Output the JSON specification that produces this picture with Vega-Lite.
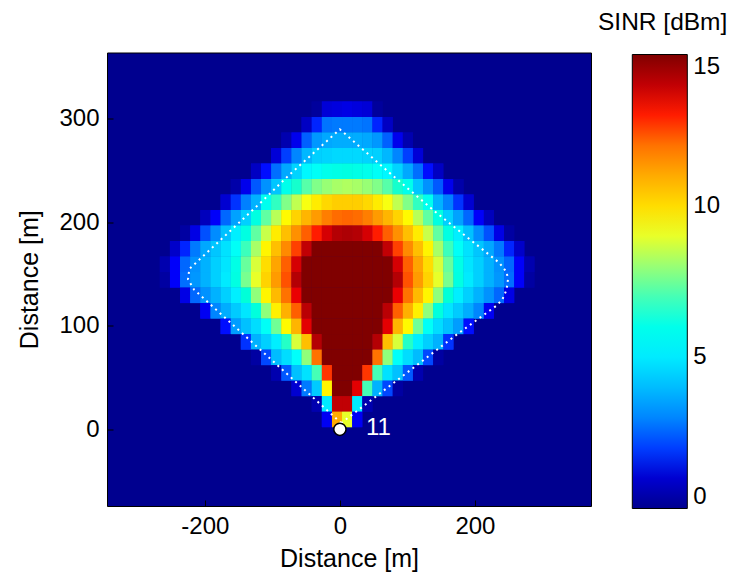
{
  "$schema": "https://vega.github.io/schema/vega-lite/v6.json",
  "width": 484,
  "height": 453.5,
  "autosize": {"type": "none"},
  "padding": {"left": 107, "top": 52.5, "right": 138, "bottom": 72},
  "background": "white",
  "title": {"text": "SINR [dBm]", "anchor": "start", "frame": "group", "dx": 491, "dy": 24, "offset": 22, "baseline": "alphabetic", "fontSize": 24.5, "fontWeight": "normal", "font": "Liberation Sans", "color": "black"},
  "config": {
    "view": {"stroke": "black", "strokeWidth": 1, "fill": "#00008f"},
    "font": "Liberation Sans",
    "axis": {"labelFont": "Liberation Sans", "labelFontSize": 24, "labelColor": "black", "titleFont": "Liberation Sans", "titleFontSize": 25, "titleFontWeight": "normal", "titleColor": "black", "tickColor": "black", "tickSize": -6, "tickWidth": 1, "grid": false, "domain": false, "labelExpr": "'' + datum.value"},
    "legend": {"gradientVerticalMaxLength": 600}
  },
  "datasets": {
    "cells": [
        {"x":-35,"y":305,"v":0.2},{"x":-20,"y":305,"v":1.1},{"x":-5,"y":305,"v":1.2},{"x":10,"y":305,"v":1.3},{"x":25,"y":305,"v":1.2},{"x":40,"y":305,"v":1.1},{"x":55,"y":305,"v":0.2},
        {"x":-50,"y":290,"v":0.8},{"x":-35,"y":290,"v":1.8},{"x":-20,"y":290,"v":2.7},{"x":-5,"y":290,"v":2.8},{"x":10,"y":290,"v":2.8},{"x":25,"y":290,"v":2.8},{"x":40,"y":290,"v":2.7},{"x":55,"y":290,"v":1.8},{"x":70,"y":290,"v":0.8},
        {"x":-80,"y":275,"v":0.5},{"x":-65,"y":275,"v":1.4},{"x":-50,"y":275,"v":2.4},{"x":-35,"y":275,"v":3.3},{"x":-20,"y":275,"v":3.6},{"x":-5,"y":275,"v":3.7},{"x":10,"y":275,"v":3.7},{"x":25,"y":275,"v":3.7},{"x":40,"y":275,"v":3.6},{"x":55,"y":275,"v":3.3},{"x":70,"y":275,"v":2.4},{"x":85,"y":275,"v":1.4},{"x":100,"y":275,"v":0.5},
        {"x":-95,"y":260,"v":1.1},{"x":-80,"y":260,"v":2.0},{"x":-65,"y":260,"v":3.0},{"x":-50,"y":260,"v":3.9},{"x":-35,"y":260,"v":4.4},{"x":-20,"y":260,"v":4.5},{"x":-5,"y":260,"v":4.6},{"x":10,"y":260,"v":4.6},{"x":25,"y":260,"v":4.6},{"x":40,"y":260,"v":4.5},{"x":55,"y":260,"v":4.4},{"x":70,"y":260,"v":3.9},{"x":85,"y":260,"v":3.0},{"x":100,"y":260,"v":2.0},{"x":115,"y":260,"v":1.1},
        {"x":-125,"y":245,"v":0.8},{"x":-110,"y":245,"v":1.7},{"x":-95,"y":245,"v":2.6},{"x":-80,"y":245,"v":3.6},{"x":-65,"y":245,"v":4.5},{"x":-50,"y":245,"v":5.3},{"x":-35,"y":245,"v":5.7},{"x":-20,"y":245,"v":6.0},{"x":-5,"y":245,"v":6.1},{"x":10,"y":245,"v":6.2},{"x":25,"y":245,"v":6.1},{"x":40,"y":245,"v":6.0},{"x":55,"y":245,"v":5.7},{"x":70,"y":245,"v":5.3},{"x":85,"y":245,"v":4.5},{"x":100,"y":245,"v":3.6},{"x":115,"y":245,"v":2.6},{"x":130,"y":245,"v":1.7},{"x":145,"y":245,"v":0.8},
        {"x":-155,"y":230,"v":0.4},{"x":-140,"y":230,"v":1.4},{"x":-125,"y":230,"v":2.3},{"x":-110,"y":230,"v":3.2},{"x":-95,"y":230,"v":4.2},{"x":-80,"y":230,"v":6.0},{"x":-65,"y":230,"v":6.6},{"x":-50,"y":230,"v":7.2},{"x":-35,"y":230,"v":7.7},{"x":-20,"y":230,"v":8.0},{"x":-5,"y":230,"v":8.2},{"x":10,"y":230,"v":8.3},{"x":25,"y":230,"v":8.2},{"x":40,"y":230,"v":8.0},{"x":55,"y":230,"v":7.7},{"x":70,"y":230,"v":7.2},{"x":85,"y":230,"v":6.6},{"x":100,"y":230,"v":6.0},{"x":115,"y":230,"v":4.2},{"x":130,"y":230,"v":3.2},{"x":145,"y":230,"v":2.3},{"x":160,"y":230,"v":1.4},{"x":175,"y":230,"v":0.4},
        {"x":-170,"y":215,"v":1.0},{"x":-155,"y":215,"v":1.9},{"x":-140,"y":215,"v":2.9},{"x":-125,"y":215,"v":3.8},{"x":-110,"y":215,"v":5.9},{"x":-95,"y":215,"v":6.8},{"x":-80,"y":215,"v":7.7},{"x":-65,"y":215,"v":8.5},{"x":-50,"y":215,"v":9.2},{"x":-35,"y":215,"v":9.7},{"x":-20,"y":215,"v":10.1},{"x":-5,"y":215,"v":10.3},{"x":10,"y":215,"v":10.3},{"x":25,"y":215,"v":10.3},{"x":40,"y":215,"v":10.1},{"x":55,"y":215,"v":9.7},{"x":70,"y":215,"v":9.2},{"x":85,"y":215,"v":8.5},{"x":100,"y":215,"v":7.7},{"x":115,"y":215,"v":6.8},{"x":130,"y":215,"v":5.9},{"x":145,"y":215,"v":3.8},{"x":160,"y":215,"v":2.9},{"x":175,"y":215,"v":1.9},{"x":190,"y":215,"v":1.0},
        {"x":-200,"y":200,"v":0.7},{"x":-185,"y":200,"v":1.6},{"x":-170,"y":200,"v":2.5},{"x":-155,"y":200,"v":3.5},{"x":-140,"y":200,"v":4.4},{"x":-125,"y":200,"v":6.2},{"x":-110,"y":200,"v":7.3},{"x":-95,"y":200,"v":8.4},{"x":-80,"y":200,"v":9.4},{"x":-65,"y":200,"v":10.2},{"x":-50,"y":200,"v":10.8},{"x":-35,"y":200,"v":11.3},{"x":-20,"y":200,"v":11.8},{"x":-5,"y":200,"v":12.1},{"x":10,"y":200,"v":12.2},{"x":25,"y":200,"v":12.1},{"x":40,"y":200,"v":11.8},{"x":55,"y":200,"v":11.3},{"x":70,"y":200,"v":10.8},{"x":85,"y":200,"v":10.2},{"x":100,"y":200,"v":9.4},{"x":115,"y":200,"v":8.4},{"x":130,"y":200,"v":7.3},{"x":145,"y":200,"v":6.2},{"x":160,"y":200,"v":4.4},{"x":175,"y":200,"v":3.5},{"x":190,"y":200,"v":2.5},{"x":205,"y":200,"v":1.6},{"x":220,"y":200,"v":0.7},
        {"x":-230,"y":185,"v":0.3},{"x":-215,"y":185,"v":1.3},{"x":-200,"y":185,"v":2.2},{"x":-185,"y":185,"v":3.1},{"x":-170,"y":185,"v":4.1},{"x":-155,"y":185,"v":5.1},{"x":-140,"y":185,"v":6.2},{"x":-125,"y":185,"v":7.3},{"x":-110,"y":185,"v":8.6},{"x":-95,"y":185,"v":9.7},{"x":-80,"y":185,"v":10.6},{"x":-65,"y":185,"v":11.5},{"x":-50,"y":185,"v":12.3},{"x":-35,"y":185,"v":13.0},{"x":-20,"y":185,"v":13.7},{"x":-5,"y":185,"v":14.2},{"x":10,"y":185,"v":14.3},{"x":25,"y":185,"v":14.2},{"x":40,"y":185,"v":13.7},{"x":55,"y":185,"v":13.0},{"x":70,"y":185,"v":12.3},{"x":85,"y":185,"v":11.5},{"x":100,"y":185,"v":10.6},{"x":115,"y":185,"v":9.7},{"x":130,"y":185,"v":8.6},{"x":145,"y":185,"v":7.3},{"x":160,"y":185,"v":6.2},{"x":175,"y":185,"v":5.1},{"x":190,"y":185,"v":4.1},{"x":205,"y":185,"v":3.1},{"x":220,"y":185,"v":2.2},{"x":235,"y":185,"v":1.3},{"x":250,"y":185,"v":0.3},
        {"x":-245,"y":170,"v":0.9},{"x":-230,"y":170,"v":1.8},{"x":-215,"y":170,"v":2.8},{"x":-200,"y":170,"v":3.6},{"x":-185,"y":170,"v":4.2},{"x":-170,"y":170,"v":4.8},{"x":-155,"y":170,"v":5.7},{"x":-140,"y":170,"v":6.9},{"x":-125,"y":170,"v":8.2},{"x":-110,"y":170,"v":9.5},{"x":-95,"y":170,"v":10.6},{"x":-80,"y":170,"v":11.6},{"x":-65,"y":170,"v":12.7},{"x":-50,"y":170,"v":14.0},{"x":-35,"y":170,"v":15},{"x":-20,"y":170,"v":15},{"x":-5,"y":170,"v":15},{"x":10,"y":170,"v":15},{"x":25,"y":170,"v":15},{"x":40,"y":170,"v":15},{"x":55,"y":170,"v":15},{"x":70,"y":170,"v":14.0},{"x":85,"y":170,"v":12.7},{"x":100,"y":170,"v":11.6},{"x":115,"y":170,"v":10.6},{"x":130,"y":170,"v":9.5},{"x":145,"y":170,"v":8.2},{"x":160,"y":170,"v":6.9},{"x":175,"y":170,"v":5.7},{"x":190,"y":170,"v":4.8},{"x":205,"y":170,"v":4.2},{"x":220,"y":170,"v":3.6},{"x":235,"y":170,"v":2.8},{"x":250,"y":170,"v":1.8},{"x":265,"y":170,"v":0.9},
        {"x":-260,"y":155,"v":0.5},{"x":-245,"y":155,"v":1.6},{"x":-230,"y":155,"v":2.5},{"x":-215,"y":155,"v":3.2},{"x":-200,"y":155,"v":3.8},{"x":-185,"y":155,"v":4.4},{"x":-170,"y":155,"v":4.9},{"x":-155,"y":155,"v":6.1},{"x":-140,"y":155,"v":7.4},{"x":-125,"y":155,"v":8.8},{"x":-110,"y":155,"v":10.0},{"x":-95,"y":155,"v":11.1},{"x":-80,"y":155,"v":12.3},{"x":-65,"y":155,"v":13.7},{"x":-50,"y":155,"v":15},{"x":-35,"y":155,"v":15},{"x":-20,"y":155,"v":15},{"x":-5,"y":155,"v":15},{"x":10,"y":155,"v":15},{"x":25,"y":155,"v":15},{"x":40,"y":155,"v":15},{"x":55,"y":155,"v":15},{"x":70,"y":155,"v":15},{"x":85,"y":155,"v":13.7},{"x":100,"y":155,"v":12.3},{"x":115,"y":155,"v":11.1},{"x":130,"y":155,"v":10.0},{"x":145,"y":155,"v":8.8},{"x":160,"y":155,"v":7.4},{"x":175,"y":155,"v":6.1},{"x":190,"y":155,"v":4.9},{"x":205,"y":155,"v":4.4},{"x":220,"y":155,"v":3.8},{"x":235,"y":155,"v":3.2},{"x":250,"y":155,"v":2.5},{"x":265,"y":155,"v":1.6},{"x":280,"y":155,"v":0.5},
        {"x":-260,"y":140,"v":0.3},{"x":-245,"y":140,"v":1.6},{"x":-230,"y":140,"v":2.6},{"x":-215,"y":140,"v":3.3},{"x":-200,"y":140,"v":3.8},{"x":-185,"y":140,"v":4.4},{"x":-170,"y":140,"v":5.0},{"x":-155,"y":140,"v":6.2},{"x":-140,"y":140,"v":7.6},{"x":-125,"y":140,"v":9.0},{"x":-110,"y":140,"v":10.2},{"x":-95,"y":140,"v":11.3},{"x":-80,"y":140,"v":12.5},{"x":-65,"y":140,"v":14.2},{"x":-50,"y":140,"v":15},{"x":-35,"y":140,"v":15},{"x":-20,"y":140,"v":15},{"x":-5,"y":140,"v":15},{"x":10,"y":140,"v":15},{"x":25,"y":140,"v":15},{"x":40,"y":140,"v":15},{"x":55,"y":140,"v":15},{"x":70,"y":140,"v":15},{"x":85,"y":140,"v":14.2},{"x":100,"y":140,"v":12.5},{"x":115,"y":140,"v":11.3},{"x":130,"y":140,"v":10.2},{"x":145,"y":140,"v":9.0},{"x":160,"y":140,"v":7.6},{"x":175,"y":140,"v":6.2},{"x":190,"y":140,"v":5.0},{"x":205,"y":140,"v":4.4},{"x":220,"y":140,"v":3.8},{"x":235,"y":140,"v":3.3},{"x":250,"y":140,"v":2.6},{"x":265,"y":140,"v":1.6},{"x":280,"y":140,"v":0.3},
        {"x":-230,"y":125,"v":1.3},{"x":-215,"y":125,"v":2.5},{"x":-200,"y":125,"v":3.2},{"x":-185,"y":125,"v":3.8},{"x":-170,"y":125,"v":4.4},{"x":-155,"y":125,"v":5.1},{"x":-140,"y":125,"v":6.4},{"x":-125,"y":125,"v":7.9},{"x":-110,"y":125,"v":9.5},{"x":-95,"y":125,"v":10.7},{"x":-80,"y":125,"v":12.0},{"x":-65,"y":125,"v":13.4},{"x":-50,"y":125,"v":15},{"x":-35,"y":125,"v":15},{"x":-20,"y":125,"v":15},{"x":-5,"y":125,"v":15},{"x":10,"y":125,"v":15},{"x":25,"y":125,"v":15},{"x":40,"y":125,"v":15},{"x":55,"y":125,"v":15},{"x":70,"y":125,"v":15},{"x":85,"y":125,"v":13.4},{"x":100,"y":125,"v":12.0},{"x":115,"y":125,"v":10.7},{"x":130,"y":125,"v":9.5},{"x":145,"y":125,"v":7.9},{"x":160,"y":125,"v":6.4},{"x":175,"y":125,"v":5.1},{"x":190,"y":125,"v":4.4},{"x":205,"y":125,"v":3.8},{"x":220,"y":125,"v":3.2},{"x":235,"y":125,"v":2.5},{"x":250,"y":125,"v":1.3},
        {"x":-200,"y":110,"v":1.5},{"x":-185,"y":110,"v":3.0},{"x":-170,"y":110,"v":3.7},{"x":-155,"y":110,"v":4.3},{"x":-140,"y":110,"v":4.9},{"x":-125,"y":110,"v":6.3},{"x":-110,"y":110,"v":7.9},{"x":-95,"y":110,"v":9.6},{"x":-80,"y":110,"v":10.9},{"x":-65,"y":110,"v":12.3},{"x":-50,"y":110,"v":14.1},{"x":-35,"y":110,"v":15},{"x":-20,"y":110,"v":15},{"x":-5,"y":110,"v":15},{"x":10,"y":110,"v":15},{"x":25,"y":110,"v":15},{"x":40,"y":110,"v":15},{"x":55,"y":110,"v":15},{"x":70,"y":110,"v":14.1},{"x":85,"y":110,"v":12.3},{"x":100,"y":110,"v":10.9},{"x":115,"y":110,"v":9.6},{"x":130,"y":110,"v":7.9},{"x":145,"y":110,"v":6.3},{"x":160,"y":110,"v":4.9},{"x":175,"y":110,"v":4.3},{"x":190,"y":110,"v":3.7},{"x":205,"y":110,"v":3.0},{"x":220,"y":110,"v":1.5},
        {"x":-170,"y":95,"v":1.7},{"x":-155,"y":95,"v":3.4},{"x":-140,"y":95,"v":4.1},{"x":-125,"y":95,"v":4.7},{"x":-110,"y":95,"v":5.7},{"x":-95,"y":95,"v":7.5},{"x":-80,"y":95,"v":9.4},{"x":-65,"y":95,"v":10.8},{"x":-50,"y":95,"v":13.5},{"x":-35,"y":95,"v":15},{"x":-20,"y":95,"v":15},{"x":-5,"y":95,"v":15},{"x":10,"y":95,"v":15},{"x":25,"y":95,"v":15},{"x":40,"y":95,"v":15},{"x":55,"y":95,"v":15},{"x":70,"y":95,"v":13.5},{"x":85,"y":95,"v":10.8},{"x":100,"y":95,"v":9.4},{"x":115,"y":95,"v":7.5},{"x":130,"y":95,"v":5.7},{"x":145,"y":95,"v":4.7},{"x":160,"y":95,"v":4.1},{"x":175,"y":95,"v":3.4},{"x":190,"y":95,"v":1.7},
        {"x":-140,"y":80,"v":1.9},{"x":-125,"y":80,"v":3.8},{"x":-110,"y":80,"v":4.4},{"x":-95,"y":80,"v":5.1},{"x":-80,"y":80,"v":6.7},{"x":-65,"y":80,"v":8.8},{"x":-50,"y":80,"v":10.6},{"x":-35,"y":80,"v":14.2},{"x":-20,"y":80,"v":15},{"x":-5,"y":80,"v":15},{"x":10,"y":80,"v":15},{"x":25,"y":80,"v":15},{"x":40,"y":80,"v":15},{"x":55,"y":80,"v":14.2},{"x":70,"y":80,"v":10.6},{"x":85,"y":80,"v":8.8},{"x":100,"y":80,"v":6.7},{"x":115,"y":80,"v":5.1},{"x":130,"y":80,"v":4.4},{"x":145,"y":80,"v":3.8},{"x":160,"y":80,"v":1.9},
        {"x":-125,"y":65,"v":0.3},{"x":-110,"y":65,"v":2.1},{"x":-95,"y":65,"v":4.0},{"x":-80,"y":65,"v":4.7},{"x":-65,"y":65,"v":5.6},{"x":-50,"y":65,"v":7.9},{"x":-35,"y":65,"v":12.0},{"x":-20,"y":65,"v":15},{"x":-5,"y":65,"v":15},{"x":10,"y":65,"v":15},{"x":25,"y":65,"v":15},{"x":40,"y":65,"v":15},{"x":55,"y":65,"v":12.0},{"x":70,"y":65,"v":7.9},{"x":85,"y":65,"v":5.6},{"x":100,"y":65,"v":4.7},{"x":115,"y":65,"v":4.0},{"x":130,"y":65,"v":2.1},{"x":145,"y":65,"v":0.3},
        {"x":-95,"y":50,"v":0.5},{"x":-80,"y":50,"v":2.3},{"x":-65,"y":50,"v":4.1},{"x":-50,"y":50,"v":4.8},{"x":-35,"y":50,"v":7.0},{"x":-20,"y":50,"v":12.8},{"x":-5,"y":50,"v":15},{"x":10,"y":50,"v":15},{"x":25,"y":50,"v":15},{"x":40,"y":50,"v":12.8},{"x":55,"y":50,"v":7.0},{"x":70,"y":50,"v":4.8},{"x":85,"y":50,"v":4.1},{"x":100,"y":50,"v":2.3},{"x":115,"y":50,"v":0.5},
        {"x":-65,"y":35,"v":1.0},{"x":-50,"y":35,"v":2.8},{"x":-35,"y":35,"v":4.3},{"x":-20,"y":35,"v":9.5},{"x":-5,"y":35,"v":15},{"x":10,"y":35,"v":15},{"x":25,"y":35,"v":13.5},{"x":40,"y":35,"v":7.0},{"x":55,"y":35,"v":3.8},{"x":70,"y":35,"v":2.1},{"x":85,"y":35,"v":0.3},
        {"x":-35,"y":20,"v":0.5},{"x":-20,"y":20,"v":5.0},{"x":-5,"y":20,"v":14},{"x":10,"y":20,"v":14},{"x":25,"y":20,"v":5.0},{"x":40,"y":20,"v":0.5},
        {"x":-20,"y":5,"v":1.5},{"x":-5,"y":5,"v":11},{"x":10,"y":5,"v":9},{"x":25,"y":5,"v":1.5}
    ]
  },
  "layer": [
    {
      "data": {"name": "cells"},
      "mark": {"type": "rect", "clip": true},
      "encoding": {
        "x": {"field": "x", "type": "quantitative", "bin": {"step": 15, "anchor": 2.5}, "title": "Distance [m]",
              "scale": {"domain": [-345, 372], "nice": false, "zero": false},
              "axis": {"values": [-200, 0, 200], "labelPadding": 14, "titlePadding": 8}},
        "y": {"field": "y", "type": "quantitative", "bin": {"step": 15, "anchor": 2.5}, "title": "Distance [m]",
              "scale": {"domain": [-74.2, 364.3], "nice": false, "zero": false},
              "axis": {"values": [0, 100, 200, 300], "labelPadding": 14, "titlePadding": 16}},
        "color": {"field": "v", "type": "quantitative",
                  "scale": {"domain": [0, 1.67, 5.48, 9.29, 13.1, 15], "range": ["#00008f", "#0000ff", "#00ffff", "#ffff00", "#ff0000", "#800000"], "clamp": true},
                  "legend": {"type": "gradient", "orient": "none", "legendX": 525.3, "legendY": 2, "title": null, "direction": "vertical", "gradientLength": 454, "gradientThickness": 55, "values": [0, 5, 10, 15], "labelFontSize": 24, "labelFont": "Liberation Sans", "labelColor": "black", "labelOffset": 6, "gradientStrokeColor": "black", "gradientStrokeWidth": 1, "padding": 0}}
      }
    },
    {
      "data": {"name": "cells"},
      "mark": {"type": "rect", "clip": true},
      "encoding": {
        "x": {"field": "x", "type": "quantitative", "bin": {"step": 15, "anchor": 2.5}, "title": "Distance [m]",
              "scale": {"domain": [-345, 372], "nice": false, "zero": false}},
        "y": {"field": "y", "type": "quantitative", "bin": {"step": 15, "anchor": 2.5}, "title": "Distance [m]",
              "scale": {"domain": [-74.2, 364.3], "nice": false, "zero": false}},
        "color": {"field": "v", "type": "quantitative",
                  "scale": {"domain": [0, 1.67, 5.48, 9.29, 13.1, 15], "range": ["#00008f", "#0000ff", "#00ffff", "#ffff00", "#ff0000", "#800000"], "clamp": true},
                  "legend": {"type": "gradient", "orient": "none", "legendX": 525.3, "legendY": 2, "title": null, "direction": "vertical", "gradientLength": 454, "gradientThickness": 55, "values": [0, 5, 10, 15], "labelFontSize": 24, "labelFont": "Liberation Sans", "labelColor": "black", "labelOffset": 6, "gradientStrokeColor": "black", "gradientStrokeWidth": 1, "padding": 0}}
      }
    },
    {
      "data": {"values": [
        {"o":0,"x":2,"y":6},{"o":1,"x":-216,"y":135},{"o":2,"x":-225,"y":145},{"o":3,"x":-223,"y":155},{"o":4,"x":-116,"y":220},{"o":5,"x":-75,"y":246},{"o":6,"x":0,"y":290},{"o":7,"x":77,"y":246},{"o":8,"x":140,"y":211},{"o":9,"x":236,"y":161},{"o":10,"x":247,"y":152},{"o":11,"x":249,"y":145},{"o":12,"x":247,"y":135},{"o":13,"x":241,"y":126},{"o":14,"x":233,"y":120},{"o":15,"x":172,"y":91},{"o":16,"x":2,"y":6}
      ]},
      "mark": {"type": "line", "color": "white", "strokeWidth": 2, "strokeDash": [2, 4], "strokeCap": "butt", "clip": true},
      "encoding": {
        "x": {"field": "x", "type": "quantitative", "title": "Distance [m]", "scale": {"domain": [-345, 372], "nice": false, "zero": false}},
        "y": {"field": "y", "type": "quantitative", "title": "Distance [m]", "scale": {"domain": [-74.2, 364.3], "nice": false, "zero": false}},
        "order": {"field": "o", "type": "quantitative"}
      }
    },
    {
      "data": {"values": [{"x": 0, "y": 0, "label": "11"}]},
      "mark": {"type": "point", "shape": "circle", "filled": true, "fill": "white", "stroke": "black", "strokeWidth": 1.5, "size": 150, "opacity": 1},
      "encoding": {
        "x": {"field": "x", "type": "quantitative", "title": "Distance [m]"},
        "y": {"field": "y", "type": "quantitative", "title": "Distance [m]"}
      }
    },
    {
      "data": {"values": [{"x": 0, "y": 0, "label": "11"}]},
      "mark": {"type": "text", "align": "left", "baseline": "middle", "dx": 26, "dy": -1, "fontSize": 24, "font": "Liberation Sans", "color": "white"},
      "encoding": {
        "x": {"field": "x", "type": "quantitative", "title": "Distance [m]"},
        "y": {"field": "y", "type": "quantitative", "title": "Distance [m]"},
        "text": {"field": "label"}
      }
    }
  ]
}
